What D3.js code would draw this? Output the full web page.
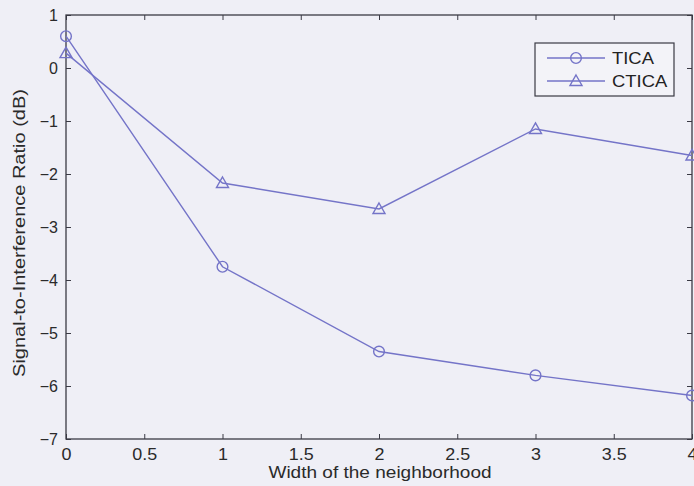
<!DOCTYPE html>
<html>
<head>
<meta charset="utf-8">
<script src="https://cdn.jsdelivr.net/npm/d3@7"></script>
<style>
  body { margin: 0; background: #efeff6; }
  svg { display: block; font-family: "Liberation Sans", Arial, sans-serif; }
  .tick text { fill: #2a2a2a; }
</style>
</head>
<body>
<script>
var widths = [0, 1, 2, 3, 4];
var ticaSir = [0.6, -3.75, -5.35, -5.8, -6.18];
var cticaSir = [0.28, -2.17, -2.66, -1.15, -1.65];
var xTickValues = [0, 0.5, 1, 1.5, 2, 2.5, 3, 3.5, 4];
var yTickValues = [1, 0, -1, -2, -3, -4, -5, -6, -7];

var width = 694, height = 486;
var margin = {left: 66, right: 2, top: 15, bottom: 47};
var lineColor = "#7474c8", axisColor = "#3a3a44";

var svg = d3.select("body").append("svg")
    .attr("width", width)
    .attr("height", height);

var x = d3.scaleLinear().domain([0, 4]).range([margin.left, width - margin.right]);
var y = d3.scaleLinear().domain([-7, 1]).range([height - margin.bottom, margin.top]);

// frame ticks point inward, matlab style
function styleAxis(g) {
  g.select(".domain").remove();
  g.selectAll(".tick line").attr("stroke", axisColor);
}

// the scanned figure has slightly widened lettering
svg.append("g")
    .attr("transform", "translate(0," + y(-7) + ")")
    .call(d3.axisBottom(x).tickValues(xTickValues).tickSizeInner(-5).tickSizeOuter(0)
      .tickPadding(10).tickFormat(d3.format("")))
    .call(styleAxis)
    .selectAll("text")
      .attr("font-size", 16).attr("font-family", null)
      .attr("transform", "scale(1.12,1)");

svg.append("g")
    .attr("transform", "translate(0," + y(1) + ")")
    .call(d3.axisTop(x).tickValues(xTickValues).tickSizeInner(-5).tickSizeOuter(0).tickFormat(""))
    .call(styleAxis);

svg.append("g")
    .attr("transform", "translate(" + x(0) + ",0)")
    .call(d3.axisLeft(y).tickValues(yTickValues).tickSizeInner(-5).tickSizeOuter(0)
      .tickPadding(8).tickFormat(d => d < 0 ? "\u2212" + Math.abs(d) : d))
    .call(styleAxis)
    .selectAll("text").attr("font-size", 16).attr("font-family", null);

svg.append("g")
    .attr("transform", "translate(" + x(4) + ",0)")
    .call(d3.axisRight(y).tickValues(yTickValues).tickSizeInner(-5).tickSizeOuter(0).tickFormat(""))
    .call(styleAxis);

svg.append("rect")
    .attr("x", x(0)).attr("y", y(1))
    .attr("width", x(4) - x(0)).attr("height", y(-7) - y(1))
    .attr("fill", "none").attr("stroke", axisColor).attr("stroke-width", 1.3);

var line = d3.line()
    .x((d, i) => x(widths[i]))
    .y(d => y(d));

function drawSeries(values, marker) {
  svg.append("path")
      .datum(values)
      .attr("fill", "none")
      .attr("stroke", lineColor)
      .attr("stroke-width", 1.4)
      .attr("d", line);
  svg.append("g").selectAll("path")
    .data(values)
    .enter().append("path")
      .attr("transform", (d, i) => "translate(" + x(widths[i]) + "," + y(d) + ")")
      .attr("d", marker)
      .attr("fill", "none")
      .attr("stroke", lineColor)
      .attr("stroke-width", 1.4);
}

var circleMarker = d3.symbol().type(d3.symbolCircle).size(90)();
var triMarker = "M0,-6L6,4.5L-6,4.5Z";

drawSeries(ticaSir, circleMarker);
drawSeries(cticaSir, triMarker);

// legend
var legend = svg.append("g").attr("transform", "translate(535,43)");
legend.append("rect")
    .attr("width", 139).attr("height", 53)
    .attr("fill", "#f3f3f8").attr("stroke", axisColor).attr("stroke-width", 1.2);

var legendItems = [
  {name: "TICA", marker: circleMarker},
  {name: "CTICA", marker: triMarker}
];
legendItems.forEach(function(item, i) {
  var row = legend.append("g").attr("transform", "translate(0," + (15 + i * 23) + ")");
  row.append("line")
      .attr("x1", 12).attr("x2", 70)
      .attr("stroke", lineColor).attr("stroke-width", 1.4);
  row.append("path")
      .attr("d", item.marker)
      .attr("transform", "translate(41,0)")
      .attr("fill", "none").attr("stroke", lineColor).attr("stroke-width", 1.4);
  row.append("text")
      .attr("transform", "translate(77,0)scale(1.15,1)")
      .attr("dy", "0.36em")
      .attr("font-size", 16).attr("fill", "#222")
      .text(item.name);
});

svg.append("text")
    .attr("transform", "translate(380,478)scale(1.12,1)")
    .attr("text-anchor", "middle")
    .attr("font-size", 17).attr("fill", "#2a2a2a")
    .text("Width of the neighborhood");

svg.append("text")
    .attr("transform", "translate(25,233)rotate(-90)scale(1.25,1)")
    .attr("text-anchor", "middle")
    .attr("font-size", 16).attr("fill", "#2a2a2a")
    .text("Signal-to-Interference Ratio (dB)");
</script>
</body>
</html>
